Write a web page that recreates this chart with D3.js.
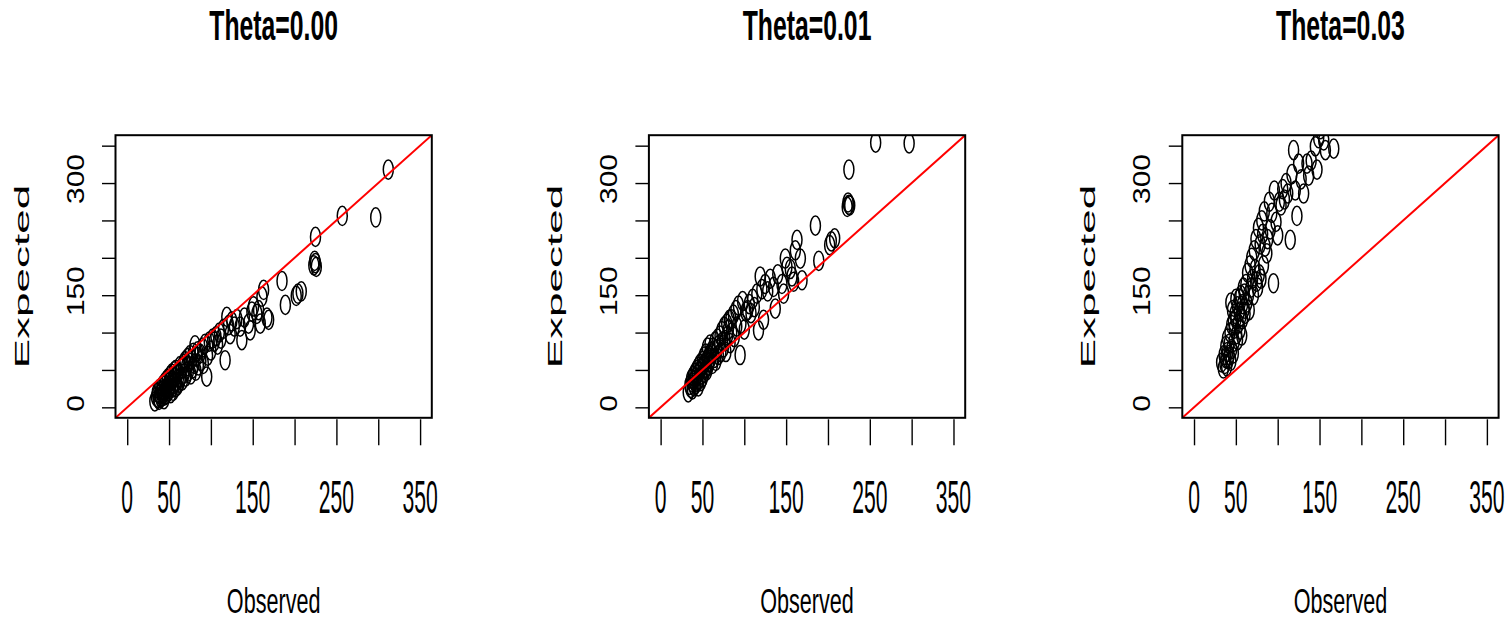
<!DOCTYPE html>
<html lang="en">
	<head>
		<meta charset="utf-8">
		<title>Observed vs Expected</title>
		<script type="text/javascript" src="https://cdn.jsdelivr.net/npm/d3@7"></script>
		<style type="text/css">
body {
  margin: 0;
  background: #fff;
}
text {
  font-family: "Liberation Sans", Arial, Helvetica, sans-serif;
  fill: #000;
}
.title {
  font-weight: bold;
}
.tick line {
  stroke: #000;
  stroke-width: 1.4;
}
		</style>
	</head>
	<body>
		<script type="text/javascript">

			// observed counts (same for all three panels)
			var observed = [33,35,36,37,38,38,39,40,40,41,42,42,43,44,44,45,45,46,47,47,48,48,49,50,50,51,52,52,53,54,54,55,56,56,57,58,58,59,60,60,
				61,62,63,64,65,66,67,68,69,70,71,72,73,74,75,76,77,78,79,80,81,82,83,84,85,87,88,90,91,93,95,96,98,100,102,
				104,106,108,110,112,115,117,119,121,123,125,128,131,135,137,140,145,147,149,151,155,157,159,161,163,167,169,185,189,202,204,208,223,224,225,226,225,257,297,312];

			// expected values, one array per theta
			var expected000 = [8,14,20,12,24,10,17,26,13,21,15,29,19,11,32,22,16,35,25,18,38,28,21,33,24,42,19,30,45,26,36,22,48,31,40,27,50,34,44,29,
				47,33,55,40,52,36,58,45,62,41,55,66,48,60,70,44,64,52,73,58,83,49,68,75,56,72,62,80,58,85,41,69,88,76,92,
				88,95,84,100,92,105,63,121,110,98,115,108,118,108,90,120,112,103,128,135,125,130,112,148,157,120,117,169,137,149,152,155,190,196,193,188,228,256,254,318];

			var expected001 = [20,30,26,38,24,33,42,28,36,46,31,40,50,34,44,28,54,38,48,58,35,52,44,62,40,56,68,46,60,52,72,49,64,80,56,70,60,84,66,74,
				72,58,80,66,88,62,78,92,70,84,96,74,102,88,80,108,90,74,112,96,104,117,86,118,100,124,94,130,108,136,70,112,142,104,128,
				130,138,126,145,134,152,103,175,158,117,165,155,172,161,132,178,165,152,199,188,185,175,168,210,224,199,170,243,196,217,222,226,268,274,271,270,318,354,353,440];

			var expected003 = [60,52,70,58,66,82,55,74,92,64,85,70,100,62,140,110,78,130,72,115,88,105,125,145,118,98,135,90,112,128,145,104,122,150,96,138,118,160,132,152,
				125,165,140,180,150,130,190,160,200,172,150,210,185,225,168,160,240,178,218,172,250,232,190,262,215,206,225,275,238,260,166,290,248,230,275,
				270,292,278,300,286,224,312,344,290,256,326,305,286,326,310,330,349,318,360,372,357,344,380,390,400,346,395,470,450,500,505,510,560,570,565,560,600,650,700,800];

			var panelTitles = ["Theta=0.00", "Theta=0.01", "Theta=0.03"];
			var panelExpected = [expected000, expected001, expected003];

			var xTicks = [0, 50, 100, 150, 200, 250, 300, 350];
			var xTickLabels = [0, 50, 150, 250, 350];
			var yTicks = [0, 50, 100, 150, 200, 250, 300, 350];
			var yTickLabels = [0, 150, 300];
			var axisLimits = [0, 350];

			var W = 1511, H = 626;
			var plotTop = 135.2, plotBottom = 417.8,
			    plotW = 316.3, plotH = plotBottom - plotTop,
			    firstLeft = 115.5, panelStep = 533.4;

			var svg = d3.select("body")
						.append("svg")
							.attr("width", W)
							.attr("height", H);

			// R style 4% extension of the limits
			var ext = (axisLimits[1] - axisLimits[0]) * 0.04;
			var domain = [axisLimits[0] - ext, axisLimits[1] + ext];

			panelTitles.forEach(function(title, p) {
				var left = firstLeft + p * panelStep;
				var xScale = d3.scaleLinear().domain(domain).range([0, plotW]);
				var yScale = d3.scaleLinear().domain(domain).range([plotH, 0]);
				var cx = left + plotW / 2;

				var g = svg.append("g")
					.attr("transform", "translate(" + left + "," + plotTop + ")");

				g.append("clipPath")
					.attr("id", "clip" + p)
					.append("rect")
						.attr("width", plotW)
						.attr("height", plotH);

				var plotArea = g.append("g").attr("clip-path", "url(#clip" + p + ")");

				var exp = panelExpected[p];
				var data = observed.map(function(o, i) { return {obs: o, exp: exp[i]}; });

				plotArea.selectAll("ellipse")
					.data(data)
					.enter()
					.append("ellipse")
						.attr("cx", function(d) { return xScale(d.obs); })
						.attr("cy", function(d) { return yScale(d.exp); })
						.attr("rx", 5)
						.attr("ry", 9.6)
						.style("fill", "none")
						.style("stroke", "#000")
						.style("stroke-width", 1.5);

				// y = x line
				plotArea.append("line")
					.attr("x1", xScale(domain[0]))
					.attr("y1", yScale(domain[0]))
					.attr("x2", xScale(domain[1]))
					.attr("y2", yScale(domain[1]))
					.style("stroke", "#ff0000")
					.style("stroke-width", 2);

				// box
				g.append("rect")
					.attr("width", plotW)
					.attr("height", plotH)
					.style("fill", "none")
					.style("stroke", "#000")
					.style("stroke-width", 2);

				// x ticks (hanging under the box)
				var xAxis = d3.axisBottom(xScale)
					.tickValues(xTicks)
					.tickSize(26)
					.tickFormat("");
				var xg = g.append("g")
					.attr("transform", "translate(0," + (plotH + 1.5) + ")")
					.call(xAxis);
				xg.select(".domain").remove();

				var yAxis = d3.axisLeft(yScale)
					.tickValues(yTicks)
					.tickSize(13.5)
					.tickFormat("");
				var yg = g.append("g").call(yAxis);
				yg.select(".domain").remove();

				// x tick labels, tall and narrow
				g.selectAll(".xlab")
					.data(xTickLabels)
					.enter()
					.append("text")
						.attr("class", "xlab")
						.attr("transform", function(d) {
							return "translate(" + xScale(d) + "," + (513 - plotTop) + ") scale(0.46,1)";
						})
						.attr("text-anchor", "middle")
						.style("font-size", "46px")
						.text(function(d) { return d; });

				// y tick labels, rotated and wide
				g.selectAll(".ylab")
					.data(yTickLabels)
					.enter()
					.append("text")
						.attr("class", "ylab")
						.attr("transform", function(d) {
							return "translate(-32," + (yScale(d) - 4) + ") rotate(-90) scale(1.3,1)";
						})
						.attr("text-anchor", "middle")
						.style("font-size", "23px")
						.text(function(d) { return d; });

				// axis titles
				svg.append("text")
					.attr("transform", "translate(" + cx + ",613) scale(0.6,1)")
					.attr("text-anchor", "middle")
					.style("font-size", "36px")
					.text("Observed");

				svg.append("text")
					.attr("transform", "translate(" + (left - 87) + "," + (plotTop + plotH / 2) + ") rotate(-90) scale(2.1,1)")
					.attr("text-anchor", "middle")
					.style("font-size", "21px")
					.text("Expected");

				svg.append("text")
					.attr("class", "title")
					.attr("transform", "translate(" + cx + ",40) scale(0.59,1)")
					.attr("text-anchor", "middle")
					.style("font-size", "42px")
					.text(title);
			});

		</script>
	</body>
</html>
